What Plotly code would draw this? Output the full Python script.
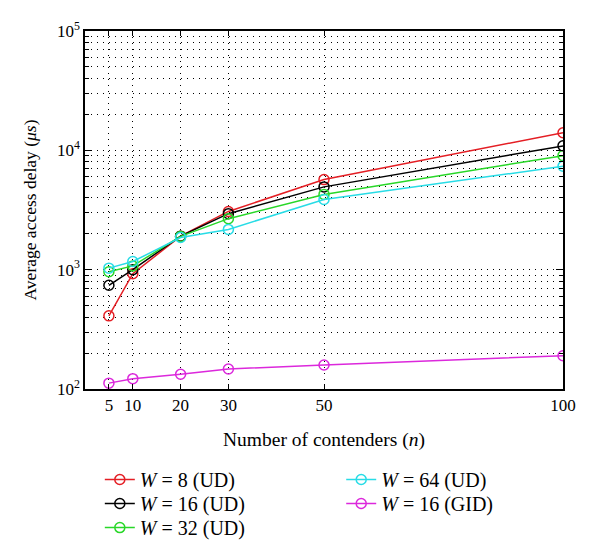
import plotly.graph_objects as go

n_vals = [5, 10, 20, 30, 50, 100]
w8_ud = [410, 925, 1910, 3075, 5690, 14050]
w16_ud = [740, 1000, 1910, 2945, 4940, 10900]
w32_ud = [960, 1075, 1900, 2675, 4270, 9030]
w64_ud = [1030, 1170, 1860, 2175, 3870, 7360]
w16_gid = [112, 122, 133, 147, 159, 190]

names = ["<i>W</i> = 8 (UD)", "<i>W</i> = 16 (UD)", "<i>W</i> = 32 (UD)",
         "<i>W</i> = 64 (UD)", "<i>W</i> = 16 (GID)"]
values = [w8_ud, w16_ud, w32_ud, w64_ud, w16_gid]
colors = ["rgb(228,30,36)", "rgb(0,0,0)", "rgb(40,215,40)", "rgb(40,220,230)", "rgb(220,40,220)"]

x_ticks = [5, 10, 20, 30, 50, 100]
y_major = [100, 1000, 10000, 100000]
y_major_text = ["10<sup>2</sup>", "10<sup>3</sup>", "10<sup>4</sup>", "10<sup>5</sup>"]
y_minor = [m * 10 ** e for e in range(2, 5) for m in range(2, 10)]

FONT = "Liberation Serif"

# legend slots: (x, y) in paper coords, one legend per entry (two columns)
leg_pos = [(0.031, -0.195), (0.031, -0.262), (0.031, -0.329),
           (0.536, -0.195), (0.536, -0.262)]
leg_ids = ["legend", "legend2", "legend3", "legend4", "legend5"]

fig = go.Figure()
for name, vals, color, lid in zip(names, values, colors, leg_ids):
    fig.add_trace(go.Scatter(
        x=n_vals, y=vals, name=name, mode="lines+markers",
        line=dict(color=color, width=1.5),
        marker=dict(symbol="circle-open", size=10, color=color, line=dict(width=1.5, color=color)),
        legend=lid,
    ))

grid_dash = "1px,5px"
layout_legends = {}
for lid, (lx, ly) in zip(leg_ids, leg_pos):
    layout_legends[lid] = dict(x=lx, y=ly, xanchor="left", yanchor="top",
                               font=dict(size=20), bgcolor="rgba(0,0,0,0)",
                               borderwidth=0)

fig.update_layout(
    width=600, height=558,
    margin=dict(l=85, r=37, t=31, b=168),
    plot_bgcolor="white", paper_bgcolor="white",
    font=dict(family=FONT, size=17, color="black"),
    xaxis=dict(
        range=[0, 100], tickvals=x_ticks, ticktext=[str(v) for v in x_ticks],
        showline=True, linecolor="black", linewidth=1.5, mirror="ticks",
        ticks="inside", ticklen=5, tickcolor="black",
        showgrid=True, gridcolor="black", gridwidth=1, griddash=grid_dash,
        zeroline=False,
        title=dict(text="Number of contenders (<i>n</i>)", standoff=18, font=dict(size=19.5)),
    ),
    yaxis=dict(
        type="log", range=[2, 5], tickvals=y_major, ticktext=y_major_text,
        showline=True, linecolor="black", linewidth=1.5, mirror="ticks",
        ticks="inside", ticklen=7, tickcolor="black",
        showgrid=True, gridcolor="black", gridwidth=1, griddash=grid_dash,
        minor=dict(tickvals=y_minor, ticks="inside", ticklen=4, tickcolor="black",
                   showgrid=True, gridcolor="black", gridwidth=1, griddash=grid_dash),
        zeroline=False,
        title=dict(text="Average access delay (<i>μs</i>)", standoff=16, font=dict(size=17.5)),
    ),
    showlegend=True,
    **layout_legends,
)

fig.write_html("out.html", config={"displayModeBar": False},
               post_script="document.body.style.margin='0px';")
